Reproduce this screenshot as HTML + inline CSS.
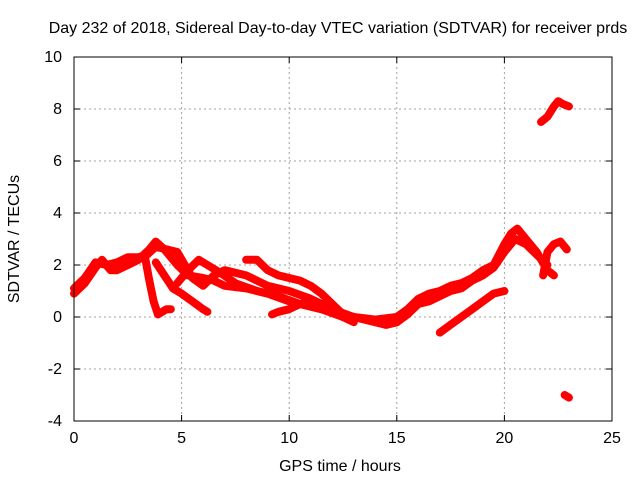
<!DOCTYPE html>
<html><head><meta charset="utf-8"><style>
body{margin:0;background:#fff}
svg text{font-family:"Liberation Sans",sans-serif;font-size:16px;fill:#000}
</style></head><body>
<svg id="chart" width="640" height="480" xmlns="http://www.w3.org/2000/svg">
<text x="338" y="33" text-anchor="middle">Day 232 of 2018, Sidereal Day-to-day VTEC variation (SDTVAR) for receiver prds</text>
<text x="340" y="471" text-anchor="middle">GPS time / hours</text>
<text transform="translate(19,239) rotate(-90)" text-anchor="middle">SDTVAR / TECUs</text>
<g id="grid"></g><g id="marks"></g><g id="axes"></g>
</svg>
<script>
const xTicks=[0,5,10,15,20,25];
const yTicks=[-4,-2,0,2,4,6,8,10];
const t1=[0,0.5,1,1.3,1.7,2,2.5,3,3.5,3.8,4.2,4.8,5.3,6,6.5,7,8,9,10,11,12,13,14,15];
const v1=[0.9,1.3,1.9,2.2,1.8,1.8,2.0,2.2,2.6,2.9,2.6,2.0,1.6,1.5,1.4,1.2,1.1,0.9,0.6,0.4,0.2,0.0,-0.1,0.0];
const t2=[0,0.5,1,1.5,2,2.5,3,3.4,3.8,4.3,4.8,5.5,6,6.5,7,8,9,10,11,12,13,14,14.5,15];
const v2=[1.1,1.5,2.1,2.0,2.1,2.3,2.3,2.4,2.7,2.6,2.5,1.5,1.2,1.6,1.8,1.6,1.2,1.0,0.7,0.3,0.0,-0.2,-0.3,-0.2];
const t3=[3.3,3.5,3.7,3.9,4.1,4.3,4.5];
const v3=[2.3,1.4,0.6,0.1,0.2,0.3,0.3];
const t4=[3.8,4.2,4.6,5.0,5.5,6.0,6.2];
const v4=[2.1,1.6,1.1,0.9,0.6,0.3,0.2];
const t5=[4.8,5.3,5.8,6.2,6.8,7.5,8.5,9.5,10.5,11.5,12.5];
const v5=[1.3,1.8,2.2,2.0,1.7,1.3,1.0,0.8,0.5,0.3,0.0];
const t6=[8,8.5,9,9.5,10,10.5,11,11.5,12,12.5];
const v6=[2.2,2.2,1.8,1.6,1.5,1.4,1.2,0.9,0.5,0.1];
const t7=[9.2,9.5,10,10.5,11,11.5,12,12.5,13];
const v7=[0.1,0.2,0.3,0.5,0.6,0.5,0.2,0.0,-0.2];
const t8=[14,14.5,15,15.5,16,16.5,17,17.5,18,18.5,19,19.5,20,20.3,20.6,21,21.5,22,22.3];
const v8=[-0.2,-0.1,0.0,0.3,0.7,0.9,1.0,1.2,1.3,1.5,1.8,2.0,2.8,3.2,3.4,3.0,2.5,1.8,1.6];
const t9=[14.5,15,15.5,16,16.5,17,17.5,18,18.5,19,19.5,20,20.5,21,21.5,22];
const v9=[-0.3,-0.2,0.1,0.5,0.6,0.8,1.0,1.1,1.4,1.6,1.9,2.5,3.0,2.8,2.4,2.0];
const t10=[17,17.5,18,18.5,19,19.5,20];
const v10=[-0.6,-0.3,0.0,0.3,0.6,0.9,1.0];
const t11=[21.8,22,22.3,22.6,22.9];
const v11=[1.6,2.5,2.8,2.9,2.6];
const t12=[21.7,22,22.3,22.5,22.7,23];
const v12=[7.5,7.7,8.1,8.3,8.2,8.1];
const t13=[22.8,23.0];
const v13=[-3.0,-3.1];
const tracks=[[t1,v1],[t2,v2],[t3,v3],[t4,v4],[t5,v5],[t6,v6],[t7,v7],[t8,v8],[t9,v9],[t10,v10],[t11,v11],[t12,v12],[t13,v13]];
const L=74,R=612,T=57,B=421,xmin=0,xmax=25,ymin=-4,ymax=10;
const X=v=>L+(v-xmin)/(xmax-xmin)*(R-L);
const Y=v=>B-(v-ymin)/(ymax-ymin)*(B-T);
const NS="http://www.w3.org/2000/svg";
function mk(tag,attrs,parent){const e=document.createElementNS(NS,tag);for(const k in attrs)e.setAttribute(k,attrs[k]);document.getElementById(parent).appendChild(e);return e;}
xTicks.forEach(v=>{
 if(v>xmin&&v<xmax){const g=mk('line',{x1:X(v),x2:X(v),y1:T,y2:B,stroke:'#a0a0a0','stroke-dasharray':'2,3'},'grid');
 
 }
 const a=mk('line',{x1:X(v),x2:X(v),y1:B,y2:B-6,stroke:'#000'},'axes');
 
 
 mk('line',{x1:X(v),x2:X(v),y1:T,y2:T+6,stroke:'#000'},'axes');
 const t=mk('text',{x:X(v),y:B+22,'text-anchor':'middle'},'axes');t.textContent=v;
 
 
});
yTicks.forEach(v=>{
 if(v>ymin&&v<ymax){const g=mk('line',{x1:L,x2:R,y1:Y(v),y2:Y(v),stroke:'#a0a0a0','stroke-dasharray':'2,3'},'grid');
 
 }
 const a=mk('line',{x1:L,x2:L+6,y1:Y(v),y2:Y(v),stroke:'#000'},'axes');
 
 
 mk('line',{x1:R,x2:R-6,y1:Y(v),y2:Y(v),stroke:'#000'},'axes');
 const t=mk('text',{x:L-12,y:Y(v)+5,'text-anchor':'end'},'axes');t.textContent=v;
 
 
});
const box=mk('rect',{x:L,y:T,width:R-L,height:B-T,fill:'none',stroke:'#000'},'axes');


tracks.forEach(([ts,vs])=>{
 const pts=ts.map((t,i)=>X(t)+','+Y(vs[i])).join(' ');
 const p=mk('polyline',{points:pts,fill:'none',stroke:'#ff0000','stroke-width':8,'stroke-linejoin':'round','stroke-linecap':'round'},'marks');
 
 
});
</script>
</body></html>
